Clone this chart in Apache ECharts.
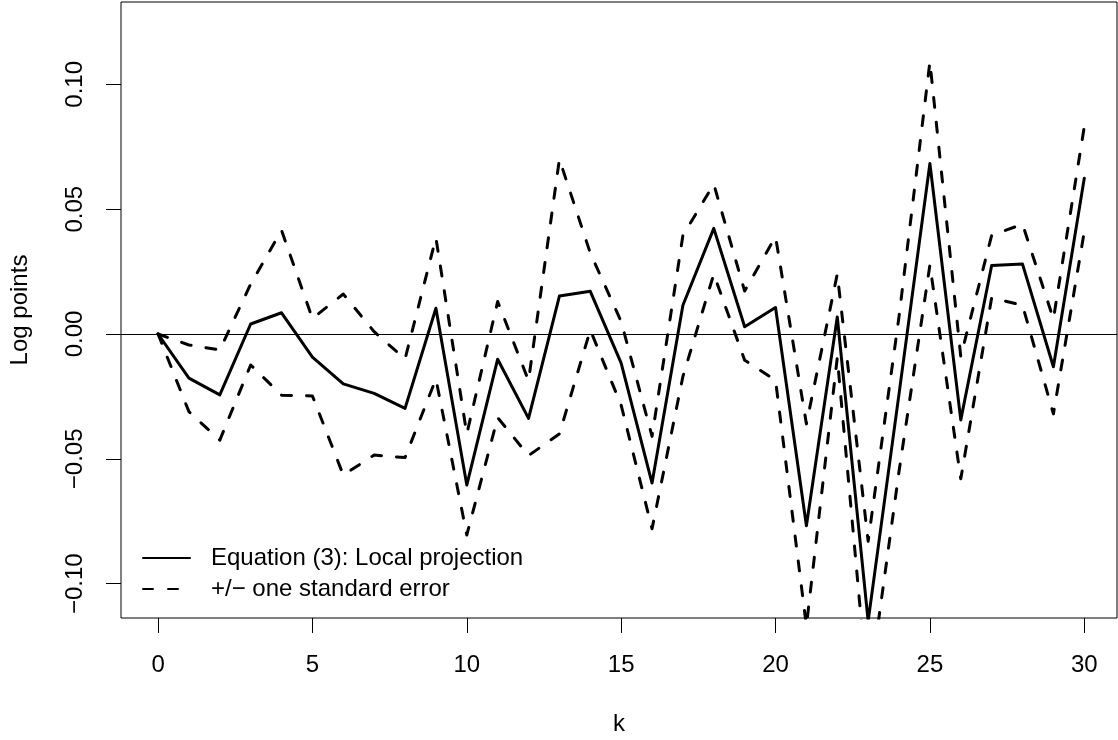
<!DOCTYPE html>
<html>
<head>
<meta charset="utf-8">
<script src="https://cdn.jsdelivr.net/npm/echarts@6/dist/echarts.min.js"></script>
<style>
html,body{margin:0;padding:0;background:#fff;}
#chart{width:1118px;height:740px;}
</style>
</head>
<body>
<div id="chart"></div>
<script>
// ---- data ----
const ks = [0,1,2,3,4,5,6,7,8,9,10,11,12,13,14,15,16,17,18,19,20,21,22,23,24,25,26,27,28,29,30];
const estimate = [0, -0.0177, -0.0244, 0.0040, 0.0085, -0.0093, -0.0200, -0.0238, -0.0298, 0.0103,
  -0.0605, -0.0101, -0.0338, 0.0152, 0.0171, -0.0117, -0.0597, 0.0115, 0.0423, 0.0029,
  0.0106, -0.0768, 0.0068, -0.1150, -0.0240, 0.0683, -0.0344, 0.0274, 0.0280, -0.0131, 0.0624];
const upperSE = [0, -0.0044, -0.0064, 0.0200, 0.0415, 0.0062, 0.0160, 0.0009, -0.0100, 0.0385,
  -0.0400, 0.0130, -0.0187, 0.0700, 0.0324, 0.0050, -0.0410, 0.0395, 0.0600, 0.0172,
  0.0390, -0.0360, 0.0240, -0.0830, 0.0070, 0.1090, -0.0090, 0.0395, 0.0440, 0.0060, 0.0830];
const lowerSE = [0, -0.0311, -0.0425, -0.0124, -0.0245, -0.0248, -0.0565, -0.0485, -0.0495, -0.0180,
  -0.0805, -0.0335, -0.0487, -0.0400, 0.0016, -0.0285, -0.0780, -0.0170, 0.0240, -0.0105,
  -0.0185, -0.1170, -0.0095, -0.1450, -0.0550, 0.0276, -0.0580, 0.0145, 0.0115, -0.0320, 0.0410];
const xTicks = [0, 5, 10, 15, 20, 25, 30];
const yTicks = [-0.10, -0.05, 0.00, 0.05, 0.10];
const nameEst = 'Equation (3): Local projection';
const nameSE = '+/\u2212 one standard error';
const xName = 'k';
const yName = 'Log points';

const FONT = '"Liberation Sans", Arial, Helvetica, sans-serif';
const fmtY = v => (v < 0 ? '\u2212' : '') + Math.abs(v).toFixed(2);

const chart = echarts.init(document.getElementById('chart'), null, {renderer: 'canvas'});
const dashed = {color: '#000', width: 3, type: [10, 15], cap: 'round', join: 'round'};

chart.setOption({
  animation: false,
  backgroundColor: '#fff',
  textStyle: {fontFamily: FONT, color: '#000'},
  grid: {left: 121, top: 2, width: 996, height: 616, show: true, borderColor: '#000', borderWidth: 1,
         backgroundColor: 'transparent', containLabel: false, outerBoundsMode: 'none'},
  legend: {
    orient: 'vertical', left: 137, top: 541,
    itemWidth: 47, itemHeight: 14, itemGap: 7,
    data: [nameEst, nameSE],
    itemStyle: {color: 'rgba(0,0,0,0)', borderWidth: 0, opacity: 0},
    textStyle: {fontFamily: FONT, fontSize: 24, color: '#000', lineHeight: 24, padding: [0, 0, 0, 16]},
    selectedMode: false
  },
  xAxis: {
    type: 'value', min: -1.2, max: 31.06,
    name: xName, nameLocation: 'middle', nameGap: 94,
    nameTextStyle: {fontFamily: FONT, fontSize: 24, color: '#000'},
    axisLine: {show: false, onZero: false},
    splitLine: {show: false},
    axisTick: {show: true, length: 15, lineStyle: {color: '#000', width: 1}, customValues: xTicks},
    axisLabel: {fontFamily: FONT, fontSize: 24, color: '#000', margin: 35, customValues: xTicks, formatter: v => String(v)}
  },
  yAxis: {
    type: 'value', min: -0.11374, max: 0.13296,
    name: yName, nameLocation: 'middle', nameGap: 89, nameRotate: 90,
    nameTextStyle: {fontFamily: FONT, fontSize: 24, color: '#000'},
    axisLine: {show: false, onZero: false},
    splitLine: {show: false},
    axisTick: {show: true, length: 15, lineStyle: {color: '#000', width: 1}, customValues: yTicks},
    axisLabel: {fontFamily: FONT, fontSize: 24, color: '#000', rotate: 90, margin: 34, customValues: yTicks, formatter: fmtY}
  },
  series: [
    {
      name: nameEst, type: 'line', symbol: 'none', clip: true,
      data: ks.map((k, i) => [k, estimate[i]]),
      lineStyle: {color: '#000', width: 3, type: 'solid', join: 'round', cap: 'round'},
      itemStyle: {color: '#000'},
      markLine: {
        silent: true, symbol: 'none', label: {show: false},
        lineStyle: {color: '#000', width: 1.2, type: 'solid'},
        data: [{yAxis: 0}]
      },
      z: 3
    },
    {
      name: nameSE, type: 'line', symbol: 'none', clip: true,
      data: ks.map((k, i) => [k, upperSE[i]]),
      lineStyle: dashed, itemStyle: {color: '#000'}, z: 2
    },
    {
      name: nameSE, type: 'line', symbol: 'none', clip: true,
      data: ks.map((k, i) => [k, lowerSE[i]]),
      lineStyle: dashed, itemStyle: {color: '#000'}, z: 2
    }
  ]
});
</script>
</body>
</html>
